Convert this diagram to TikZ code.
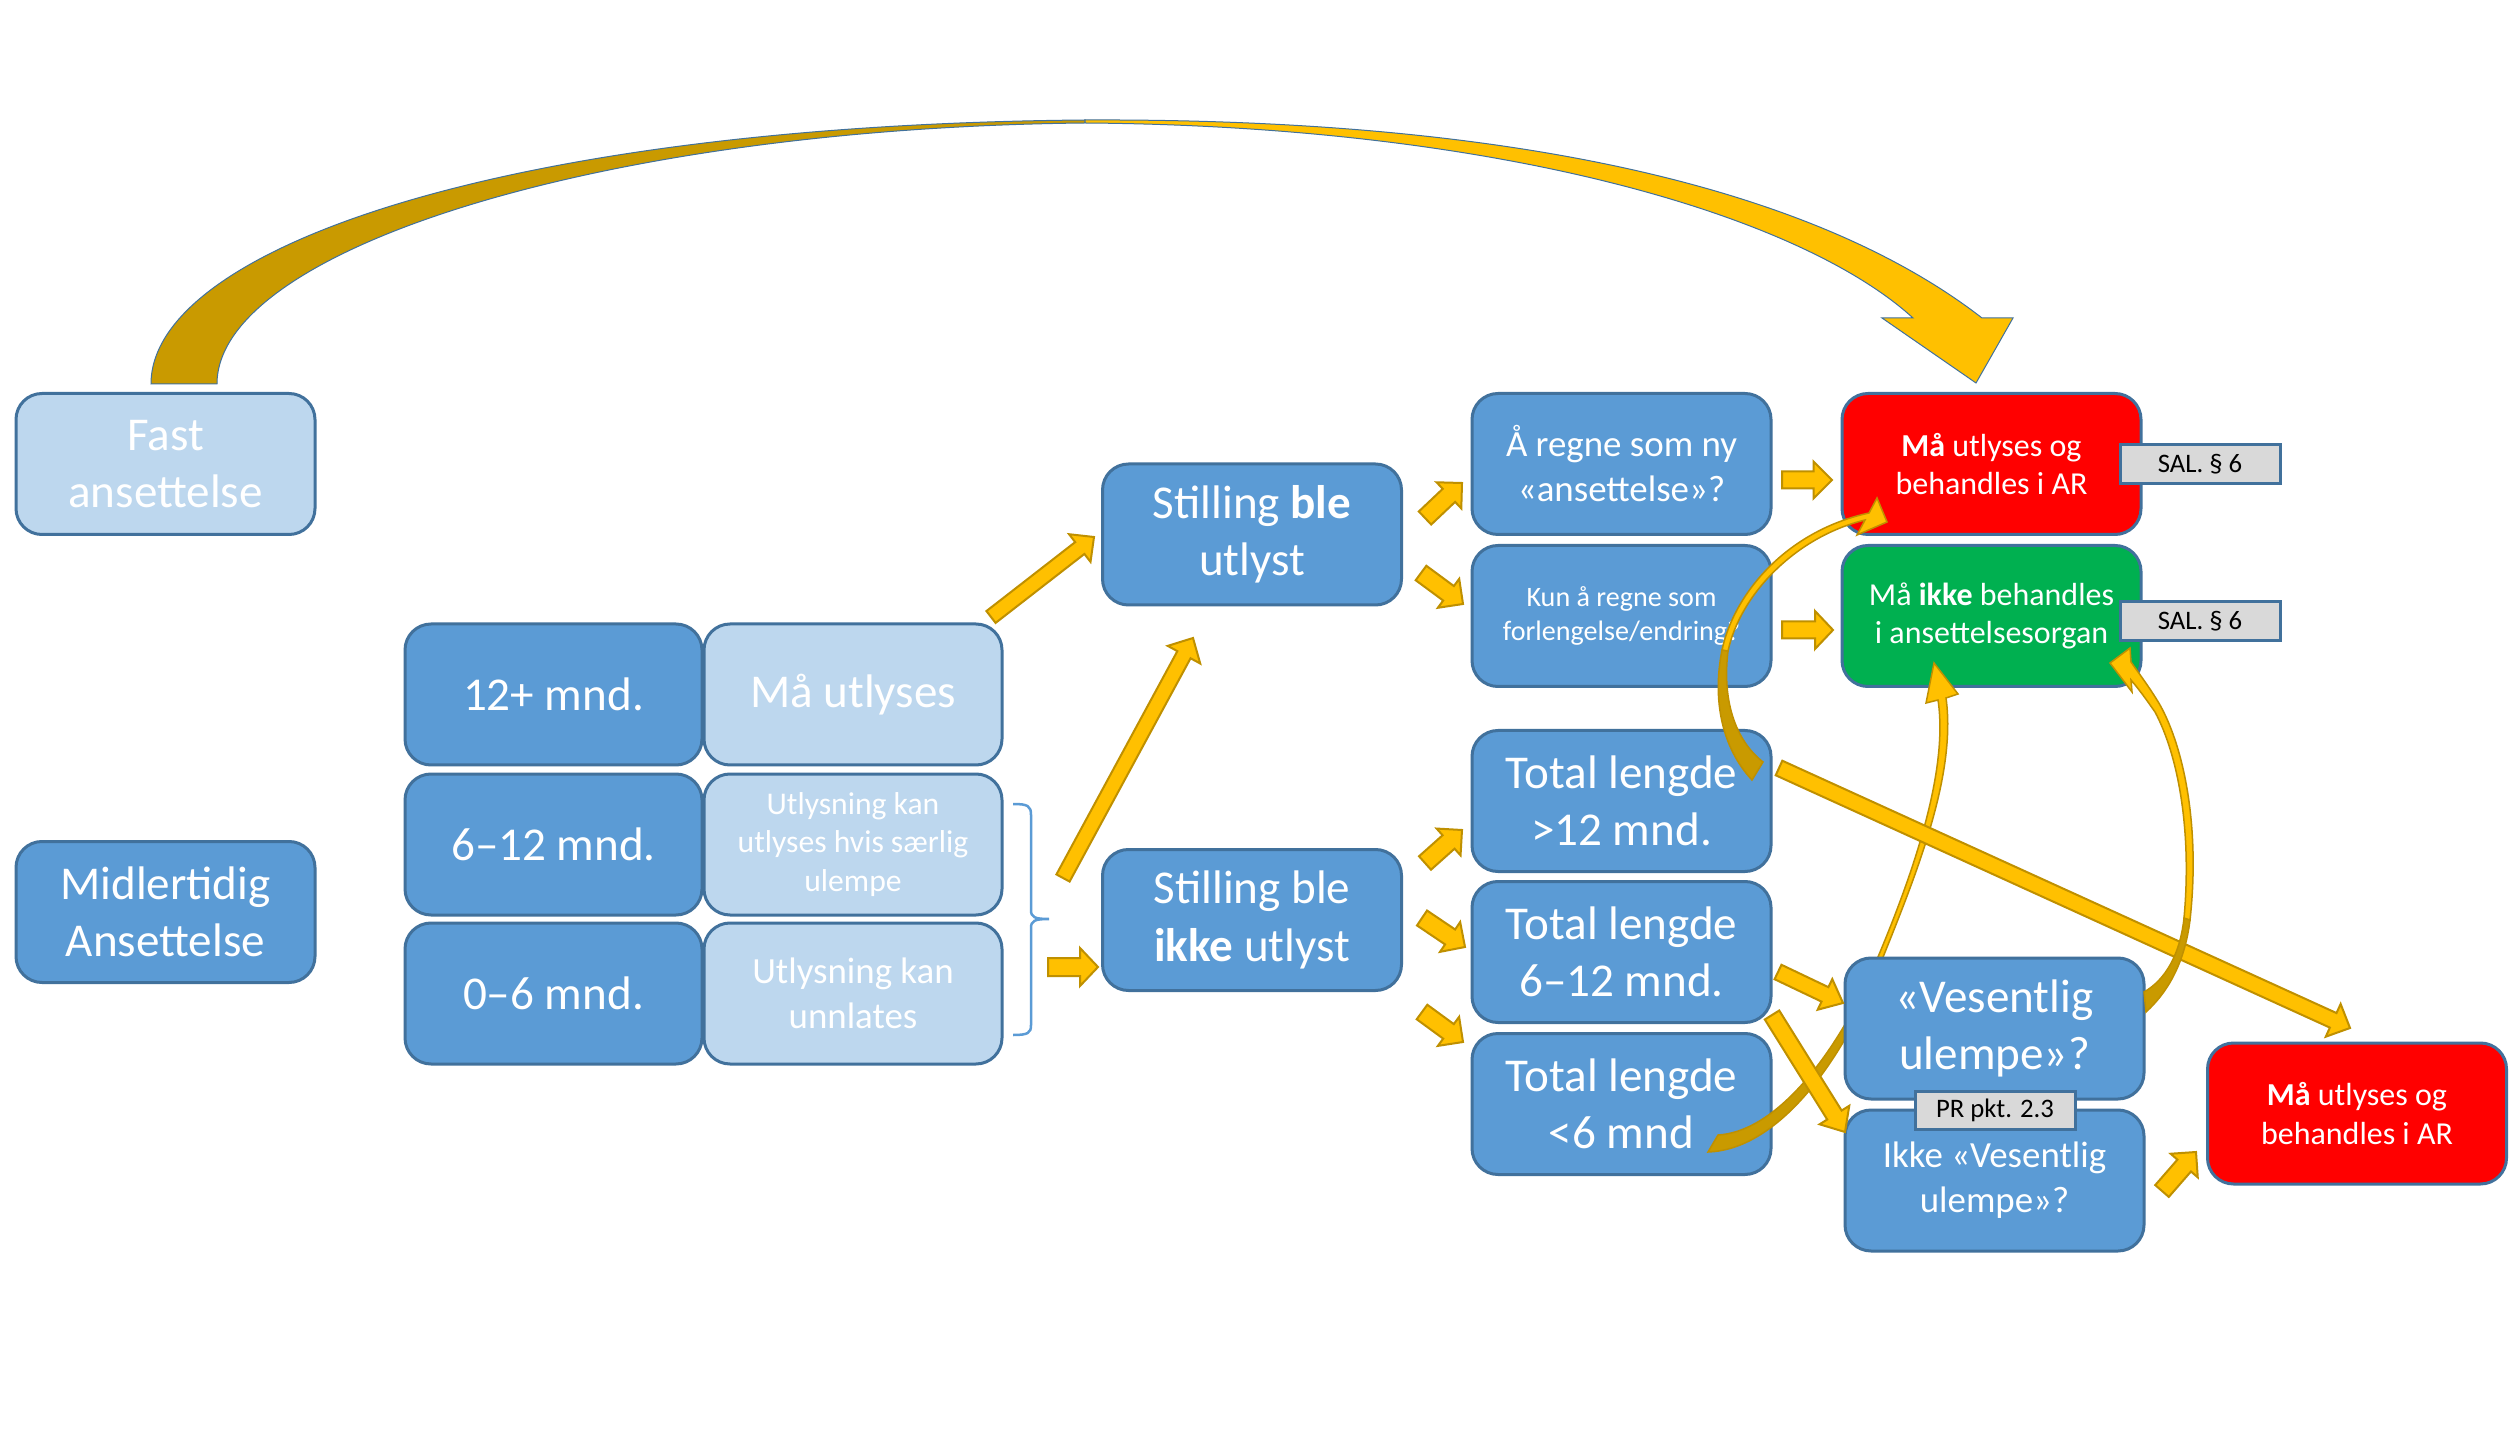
\documentclass[tikz,border=0pt]{standalone}
\usepackage{fontspec}
\setmainfont{Carlito}
\usetikzlibrary{calc}
\definecolor{boxblue}{HTML}{5B9BD5}
\definecolor{lightblue}{HTML}{BDD7EE}
\definecolor{edgeblue}{HTML}{41719C}
\definecolor{arrowyellow}{HTML}{FFC000}
\definecolor{arrowedge}{HTML}{BF9000}
\definecolor{darkgold}{HTML}{C99A00}
\definecolor{boxred}{HTML}{FF0000}
\definecolor{boxgreen}{HTML}{00B050}
\definecolor{labelgrey}{HTML}{D9D9D9}
\newcommand\szXL{\fontsize{13.4pt}{16.3pt}\selectfont}
\newcommand\szL{\fontsize{10.5pt}{12.8pt}\selectfont}
\newcommand\szUK{\fontsize{9.0pt}{10.9pt}\selectfont}
\newcommand\szM{\fontsize{9.1pt}{11pt}\selectfont}
\newcommand\szS{\fontsize{8pt}{9.7pt}\selectfont}
\newcommand\szXS{\fontsize{7.6pt}{9pt}\selectfont}
\tikzset{
  box/.style={draw=edgeblue, line width=0.3mm, rounded corners=2.6mm,
    minimum width=29.9mm, minimum height=14.1mm, align=center,
    text=white, inner sep=0pt},
  bluebox/.style={box, fill=boxblue},
  lightbox/.style={box, fill=lightblue},
  redbox/.style={box, fill=boxred},
  greenbox/.style={box, fill=boxgreen},
  tag/.style={draw=edgeblue, fill=labelgrey, line width=0.3mm,
    minimum width=16mm, minimum height=3.85mm, inner sep=0pt,
    text=black, font=\szXS},
  blockarrow/.style={fill=arrowyellow, draw=arrowedge, line width=0.2mm, line join=miter},
  darkband/.style={fill=darkgold, draw=arrowedge, line width=0.15mm},
  yellowband/.style={fill=arrowyellow, draw=arrowedge, line width=0.15mm, line join=miter},
  bracestyle/.style={draw=boxblue, line width=0.25mm}
}
% start, end, half shaft, half head, head length
\newcommand\blockarr[5]{%
  \draw[blockarrow] ($(#1)!#3!90:(#2)$) -- ($(#1)!#3!-90:(#2)$)
   -- ($($(#2)!#5!(#1)$)!#3!90:(#1)$) -- ($($(#2)!#5!(#1)$)!#4!90:(#1)$)
   -- (#2) -- ($($(#2)!#5!(#1)$)!#4!-90:(#1)$)
   -- ($($(#2)!#5!(#1)$)!#3!-90:(#1)$) -- cycle;}
\begin{document}
\begin{tikzpicture}[x=0.1mm,y=-0.1mm]
\fill[white] (0,0) rectangle (2509,1440);
\useasboundingbox (0,0) rectangle (2509,1440);

% big curved arrow: Fast ansettelse -> red box
\fill[darkgold, draw=edgeblue, line width=0.1mm]
  (151,384) .. controls (151,250) and (500,125) .. (1085,120)
  -- (1085,123) .. controls (600,128) and (217,250) .. (217,384) -- cycle;
\fill[arrowyellow, draw=edgeblue, line width=0.1mm, line join=miter]
  (1085,120) .. controls (1550,118) and (1830,200) .. (1982,318)
  -- (2013,318) -- (1976,383) -- (1882,318) -- (1913,318)
  .. controls (1800,215) and (1500,126) .. (1085,123) -- cycle;

% boxes
\node[lightbox, font=\szXL] (fast) at (165.5,464) {Fast\\ansettelse};
\node[bluebox, font=\szXL] (midl) at (165.5,912) {Midlertidig\\Ansettelse};
\node[bluebox, font=\szXL, minimum width=29.7mm] (m12) at (553.5,694.5) {12+ mnd.};
\node[lightbox, font=\szXL, minimum width=29.8mm] (mu) at (853,694.5) {Må utlyses};
\node[bluebox, font=\szXL, minimum width=29.7mm] (m6) at (553.5,844.5) {6–12 mnd.};
\node[lightbox, font=\szUK, minimum width=29.8mm] (uk1) at (853,844.5) {Utlysning kan\\utlyses hvis særlig\\ulempe};
\node[bluebox, font=\szXL, minimum width=29.7mm] (m0) at (553.5,993.5) {0–6 mnd.};
\node[lightbox, font=\szL, minimum width=29.8mm] (uk2) at (853,993.5) {Utlysning kan\\unnlates};

\draw[bracestyle] (1013,804) .. controls (1028,804) and (1031,806) .. (1031,815)
  -- (1031,910) .. controls (1031,917) and (1034,919) .. (1049,919)
  .. controls (1034,919) and (1031,921) .. (1031,928)
  -- (1031,1025) .. controls (1031,1033) and (1028,1035) .. (1013,1035);

\node[bluebox, font=\szXL] (sbu) at (1252,534.5) {Stilling \textbf{ble}\\utlyst};
\node[bluebox, font=\szXL] (sbiu) at (1252,920) {Stilling ble\\\textbf{ikke} utlyst};
\node[bluebox, font=\szL] (ny) at (1621.5,464) {Å regne som ny\\«ansettelse»?};
\node[bluebox, font=\szS] (kun) at (1621.5,616) {Kun å regne som\\forlengelse/endring?};
\node[bluebox, font=\szXL] (t12) at (1621.5,801) {Total lengde\\>12 mnd.};
\node[bluebox, font=\szXL] (t612) at (1621.5,952) {Total lengde\\6–12 mnd.};
\node[bluebox, font=\szXL] (t6) at (1621.5,1104) {Total lengde\\<6 mnd};
\node[redbox, font=\szM] (ar1) at (1991.5,464) {\textbf{Må} utlyses og\\behandles i AR};
\node[greenbox, font=\szM] (gr) at (1991.5,616) {Må \textbf{ikke} behandles\\i ansettelsesorgan};
\node[tag] (sal1) at (2200,464) {SAL. § 6};
\node[tag] (sal2) at (2200,621) {SAL. § 6};

% curved arrow <6 mnd -> green (behind the Vesentlig box)
\path[darkband] (1708,1152) .. controls (1770,1150) and (1830,1080) .. (1870,990)
  -- (1866,985) .. controls (1825,1070) and (1770,1132) .. (1718,1135) -- cycle;
\path[yellowband] (1870,990) .. controls (1905,900) and (1958,785) .. (1946,698)
  -- (1958,694) -- (1934,663) -- (1926,703) -- (1938,700)
  .. controls (1950,780) and (1903,900) .. (1866,985) -- cycle;

\node[bluebox, font=\szXL] (ves) at (1994.5,1028.5) {«Vesentlig\\ulempe»?};
\node[bluebox, font=\szL] (ikke) at (1994.5,1180.5) {Ikke «Vesentlig\\ulempe»?};
\node[tag] (pr) at (1995,1110.5) {PR pkt. 2.3};
\node[redbox, font=\szM] (ar2) at (2357,1113.5) {\textbf{Må} utlyses og\\behandles i AR};

% straight block arrows
\coordinate (aS) at (991,617);   \coordinate (aE) at (1094,537);
\coordinate (bS) at (1063,878);  \coordinate (bE) at (1193,638);
\coordinate (cS) at (1048,967);  \coordinate (cE) at (1098,967);
\coordinate (dS) at (1425,518);  \coordinate (dE) at (1462,483);
\coordinate (eS) at (1421,573);  \coordinate (eE) at (1463,604);
\coordinate (fS) at (1425,863);  \coordinate (fE) at (1462,830);
\coordinate (gS) at (1422,918);  \coordinate (gE) at (1465,947);
\coordinate (hS) at (1422,1012); \coordinate (hE) at (1463,1042);
\coordinate (iS) at (1782,480);  \coordinate (iE) at (1832,480);
\coordinate (jS) at (1782,630);  \coordinate (jE) at (1833,630);
\coordinate (kS) at (1779,768);  \coordinate (kE) at (2350,1028);
\coordinate (lS) at (1778,972);  \coordinate (lE) at (1843,1003);
\coordinate (mS) at (1772,1015); \coordinate (mE) at (1845,1132);
\coordinate (nS) at (2162,1191); \coordinate (nE) at (2196,1152);
\blockarr{aS}{aE}{0.75mm}{1.75mm}{1.8mm}
\blockarr{bS}{bE}{0.75mm}{1.85mm}{1.9mm}
\blockarr{cS}{cE}{0.9mm}{1.9mm}{1.8mm}
\blockarr{dS}{dE}{0.9mm}{1.8mm}{1.8mm}
\blockarr{eS}{eE}{0.9mm}{1.8mm}{1.8mm}
\blockarr{fS}{fE}{0.9mm}{1.8mm}{1.8mm}
\blockarr{gS}{gE}{0.9mm}{1.8mm}{1.8mm}
\blockarr{hS}{hE}{0.9mm}{1.8mm}{1.8mm}
\blockarr{iS}{iE}{0.85mm}{1.85mm}{1.85mm}
\blockarr{jS}{jE}{0.85mm}{1.9mm}{1.8mm}
\blockarr{kS}{kE}{0.8mm}{1.8mm}{1.85mm}
\blockarr{lS}{lE}{0.8mm}{1.7mm}{2.0mm}
\blockarr{mS}{mE}{0.85mm}{1.75mm}{2.0mm}
\blockarr{nS}{nE}{0.9mm}{1.8mm}{1.8mm}

% curved arrow >12 mnd -> red box
\path[darkband] (1752,780) .. controls (1722,748) and (1712,700) .. (1722,650)
  -- (1728,651) .. controls (1722,700) and (1735,740) .. (1763,762) -- cycle;
\path[yellowband] (1722,650) .. controls (1735,590) and (1790,530) .. (1869,513)
  -- (1877,498) -- (1887,522) -- (1857,535) -- (1865,520)
  .. controls (1795,537) and (1740,595) .. (1728,651) -- cycle;

% curved arrow Vesentlig -> green
\path[darkband] (2146,1012) .. controls (2170,990) and (2185,960) .. (2190,920)
  -- (2184,918) .. controls (2180,955) and (2165,980) .. (2144,992) -- cycle;
\path[yellowband] (2190,920) .. controls (2200,830) and (2185,750) .. (2160,705)
  .. controls (2150,688) and (2140,675) .. (2131,662)
  -- (2130,648) -- (2110,663) -- (2132,692) -- (2131,680)
  .. controls (2142,693) and (2150,705) .. (2155,712)
  .. controls (2178,755) and (2192,830) .. (2184,918) -- cycle;
\end{tikzpicture}
\end{document}
